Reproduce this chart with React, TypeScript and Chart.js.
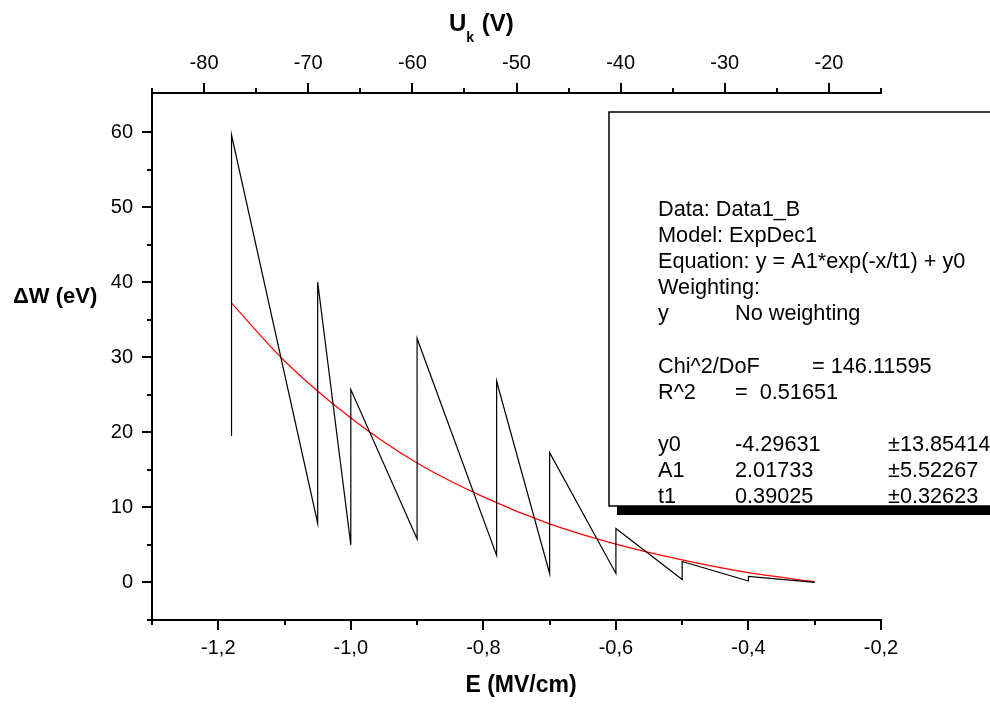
import React, { useEffect, useRef } from "react";
import { Chart, registerables } from "chart.js";
Chart.register(...registerables);

// Measured sawtooth data (E in MV/cm, ΔW in eV)
const fieldE = [-1.18, -1.18, -1.05, -1.05, -1.0, -1.0, -0.9, -0.9, -0.78, -0.78, -0.7, -0.7, -0.6, -0.6, -0.5, -0.5, -0.4, -0.4, -0.3];
const deltaW = [19.5, 59.6, 7.9, 40.0, 5.0, 25.7, 5.8, 32.5, 3.6, 26.8, 1.2, 17.3, 1.2, 7.2, 0.4, 2.8, 0.2, 0.8, 0.0];

// Fitted ExpDec1 curve
const fitE = [-1.18, -1.1, -1.0, -0.9, -0.8, -0.7, -0.6, -0.5, -0.4, -0.3];
const fitW = [37.2, 29.5, 21.9, 15.9, 11.4, 7.8, 5.1, 3.0, 1.3, 0.1];

// Axes
const xMajor = [-1.2, -1.0, -0.8, -0.6, -0.4, -0.2];
const xMinor = [-1.3, -1.1, -0.9, -0.7, -0.5, -0.3];
const topMajor = [-80, -70, -60, -50, -40, -30, -20];
const topMinor = [-85, -75, -65, -55, -45, -35, -25, -15];
const yMajor = [0, 10, 20, 30, 40, 50, 60];
const yMinor = [-5, 5, 15, 25, 35, 45, 55];

// Fit report text
const reportLines: [string, string, string][] = [
  ["Data: Data1_B", "", ""],
  ["Model: ExpDec1", "", ""],
  ["Equation: y = A1*exp(-x/t1) + y0", "", ""],
  ["Weighting:", "", ""],
  ["y", "No weighting", ""],
  ["", "", ""],
  ["Chi^2/DoF", "", "= 146.11595"],
  ["R^2", "=  0.51651", ""],
  ["", "", ""],
  ["y0", "-4.29631", "±13.85414"],
  ["A1", "2.01733", "±5.52267"],
  ["t1", "0.39025", "±0.32623"],
];

const FONT = '"Liberation Sans", Arial, sans-serif';

const decorPlugin = {
  id: "decor",
  afterDraw(chart: any) {
    const { ctx, chartArea, scales } = chart;
    const { left, top, bottom } = chartArea;
    ctx.save();
    ctx.strokeStyle = "#000";
    ctx.lineWidth = 2;
    ctx.beginPath();
    // bottom ticks
    xMajor.forEach((v) => { const p = Math.round(scales.x.getPixelForValue(v)); ctx.moveTo(p, bottom); ctx.lineTo(p, bottom + 10); });
    xMinor.forEach((v) => { const p = Math.round(scales.x.getPixelForValue(v)); ctx.moveTo(p, bottom); ctx.lineTo(p, bottom + 5); });
    // top ticks
    topMajor.forEach((v) => { const p = Math.round(scales.x2.getPixelForValue(v)); ctx.moveTo(p, top); ctx.lineTo(p, top - 10); });
    topMinor.forEach((v) => { const p = Math.round(scales.x2.getPixelForValue(v)); ctx.moveTo(p, top); ctx.lineTo(p, top - 5); });
    // left ticks
    yMajor.forEach((v) => { const p = Math.round(scales.y.getPixelForValue(v)); ctx.moveTo(left, p); ctx.lineTo(left - 10, p); });
    yMinor.forEach((v) => { const p = Math.round(scales.y.getPixelForValue(v)); ctx.moveTo(left, p); ctx.lineTo(left - 5, p); });
    ctx.stroke();

    // Axis titles
    ctx.fillStyle = "#000";
    ctx.font = `bold 23px ${FONT}`;
    ctx.textAlign = "center";
    ctx.textBaseline = "middle";
    ctx.fillText("E (MV/cm)", 521, 686);

    ctx.textAlign = "left";
    ctx.font = `bold 22px ${FONT}`;
    ctx.fillText("\u0394W (eV)", 13, 297);

    // Top title U_k (V)
    ctx.textBaseline = "alphabetic";
    ctx.font = `bold 24px ${FONT}`;
    let x = 449;
    ctx.fillText("U", x, 31);
    x += ctx.measureText("U").width;
    ctx.font = `bold 14px ${FONT}`;
    ctx.fillText("k", x, 42);
    x += ctx.measureText("k").width + 1;
    ctx.font = `bold 24px ${FONT}`;
    ctx.fillText(" (V)", x, 31);

    // Fit report box with shadow
    const bx = 609, by = 112, bw = 400, bh = 394;
    ctx.fillStyle = "#000";
    ctx.fillRect(bx + 8, by + bh, bw, 9);
    ctx.fillStyle = "#fff";
    ctx.fillRect(bx, by, bw, bh);
    ctx.lineWidth = 1.5;
    ctx.strokeStyle = "#000";
    ctx.strokeRect(bx, by, bw, bh);

    ctx.fillStyle = "#000";
    ctx.font = `21.7px ${FONT}`;
    ctx.textBaseline = "middle";
    ctx.textAlign = "left";
    const rowY0 = 210, rowH = 26.1;
    reportLines.forEach((r, i) => {
      const yy = rowY0 + i * rowH;
      if (r[0]) ctx.fillText(r[0], 658, yy);
      if (r[1]) ctx.fillText(r[1], 735, yy);
      if (r[2]) ctx.fillText(r[2], i === 6 ? 812 : 888, yy);
    });
    ctx.restore();
  },
};

export default function App() {
  const ref = useRef<HTMLCanvasElement | null>(null);
  useEffect(() => {
    if (!ref.current) return;
    const tickFont = { family: FONT, size: 20 };
    const chart = new Chart(ref.current, {
      type: "scatter",
      data: {
        datasets: [
          {
            label: "Data1_B",
            data: fieldE.map((e, i) => ({ x: e, y: deltaW[i] })),
            showLine: true,
            borderColor: "#000",
            borderWidth: 1.2,
            pointRadius: 0,
            tension: 0,
            xAxisID: "x",
            yAxisID: "y",
          },
          {
            label: "ExpDec1 fit",
            data: fitE.map((e, i) => ({ x: e, y: fitW[i] })),
            showLine: true,
            borderColor: "#ff0000",
            borderWidth: 1.2,
            pointRadius: 0,
            cubicInterpolationMode: "monotone",
            xAxisID: "x",
            yAxisID: "y",
          },
        ],
      },
      options: {
        animation: false,
        responsive: false,
        devicePixelRatio: 1,
        layout: { padding: { left: 0, right: 109, top: 0, bottom: 0 } },
        plugins: { legend: { display: false }, tooltip: { enabled: false } },
        scales: {
          x: {
            type: "linear",
            position: "bottom",
            min: -1.3,
            max: -0.2,
            grid: { display: false, drawTicks: false },
            border: { display: true, color: "#000", width: 2 },
            afterBuildTicks: (s: any) => { s.ticks = xMajor.map((v) => ({ value: v })); },
            afterFit: (s: any) => { s.height = 84; },
            ticks: {
              font: tickFont,
              color: "#000",
              padding: 16,
              maxRotation: 0,
              callback: (v: any) => Number(v).toFixed(1).replace(".", ","),
            },
          },
          x2: {
            type: "linear",
            position: "top",
            min: -85,
            max: -15,
            grid: { display: false, drawTicks: false },
            border: { display: true, color: "#000", width: 2 },
            afterBuildTicks: (s: any) => { s.ticks = topMajor.map((v) => ({ value: v })); },
            afterFit: (s: any) => { s.height = 93; },
            ticks: { font: tickFont, color: "#000", padding: 18, maxRotation: 0, callback: (v: any) => String(v) },
          },
          y: {
            type: "linear",
            position: "left",
            min: -5,
            max: 65.2,
            grid: { display: false, drawTicks: false },
            border: { display: true, color: "#000", width: 2 },
            afterBuildTicks: (s: any) => { s.ticks = yMajor.map((v) => ({ value: v })); },
            afterFit: (s: any) => { s.width = 152; },
            ticks: { font: tickFont, color: "#000", padding: 19, callback: (v: any) => String(v) },
          },
        },
      },
      plugins: [decorPlugin],
    } as any);
    return () => chart.destroy();
  }, []);
  return (
    <div style={{ position: "absolute", left: 0, top: 0, width: 990, height: 704, background: "#fff" }}>
      <canvas ref={ref} width={990} height={704} style={{ display: "block", width: 990, height: 704 }} />
    </div>
  );
}
